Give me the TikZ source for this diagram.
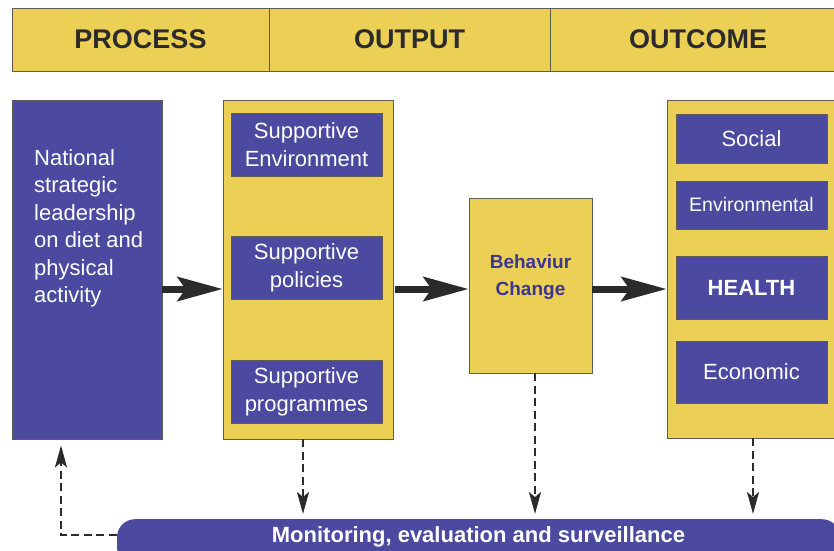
\documentclass[tikz,border=0pt]{standalone}
\usepackage{fontspec}
\setmainfont{Liberation Sans}
\usetikzlibrary{arrows.meta}
\definecolor{kiiro}{RGB}{236,207,85}
\definecolor{ao}{RGB}{75,74,160}
\definecolor{koiao}{RGB}{58,54,145}
\definecolor{sumi}{RGB}{43,43,43}
\definecolor{waku}{RGB}{95,92,82}
\tikzset{
  kiirobox/.style={draw=waku, fill=kiiro, line width=0.8pt, inner sep=0pt},
  aobox/.style={draw=waku, fill=ao, line width=0.8pt, text=white, align=center, inner sep=0pt,
    minimum width=151pt, font=\fontsize{22}{28}\selectfont},
  midashi/.style={kiirobox, minimum height=63pt, text=sumi, font=\bfseries\fontsize{27}{32}\selectfont},
  futoya/.style={draw=sumi, line width=7pt, -{Stealth[length=45pt,width=24pt,inset=8pt]}},
  tenya/.style={draw=sumi, line width=2.4pt, dash pattern=on 8pt off 4.5pt,
    -{Stealth[length=22pt,width=12pt,inset=5pt]}},
}
\begin{document}
\begin{tikzpicture}[x=1pt,y=-1pt]
  \useasboundingbox (0,0) rectangle (834,550);
  \clip (0,0) rectangle (834,550);

  \node[midashi, minimum width=257pt] (hproc) at (140.5,39.5) {PROCESS};
  \node[midashi, minimum width=281pt] (hout) at (409.5,39.5) {OUTPUT};
  \node[midashi, minimum width=296pt] (hres) at (698,39.5) {OUTCOME}; %見出し

  \node[aobox, minimum width=150pt, minimum height=339pt] (lead) at (87,269.5) {};
  \node[anchor=north west, inner sep=0pt, align=left, text=white,
    font=\fontsize{22}{27.5}\selectfont] (leadtext) at (34,149)
    {National\\strategic\\leadership\\on diet and\\physical\\activity}; %左の箱

  \node[kiirobox, minimum width=170pt, minimum height=339pt] (output) at (308,269.5) {};
  \node[aobox, minimum height=63pt] (sienv) at (306.5,144.5) {Supportive\\Environment};
  \node[aobox, minimum height=63pt] (sipol) at (306.5,267.5) {Supportive\\policies};
  \node[aobox, minimum height=63pt] (siprog) at (306.5,391.5) {Supportive\\programmes}; %中の箱

  \node[kiirobox, minimum width=123pt, minimum height=175pt, align=center, text=koiao,
    text depth=20pt, font=\bfseries\fontsize{19}{27}\selectfont] (behav) at (530.5,285.5)
    {Behaviur\\Change}; %行動の変化

  \node[kiirobox, minimum width=183pt, minimum height=338pt] (outcome) at (758.5,269) {};
  \node[aobox, minimum height=49pt] (social) at (751.5,138.5) {Social};
  \node[aobox, minimum height=48pt, font=\fontsize{19.5}{24}\selectfont] (environ) at (751.5,205) {Environmental};
  \node[aobox, minimum height=63pt, font=\bfseries\fontsize{22}{28}\selectfont] (health) at (751.5,287.5) {HEALTH};
  \node[aobox, minimum height=62pt] (econ) at (751.5,372) {Economic}; %右の箱

  \node[fill=ao, rounded corners=18pt, anchor=north, minimum width=723pt, inner xsep=0pt, inner ysep=3pt,
    text height=20pt, text depth=20pt, text=white, font=\bfseries\fontsize{22}{26}\selectfont] (bar)
    at (478.5,519) {Monitoring, evaluation and surveillance}; %下の帯

  \coordinate (flow) at (0,289);
  \draw[futoya] (lead.east |- flow) -- (output.west |- flow);
  \draw[futoya] ([xshift=2pt]output.east |- flow) -- (behav.west |- flow);
  \draw[futoya] (behav.east |- flow) -- (outcome.west |- flow); %太い矢印

  \draw[tenya, shorten >=5pt] ([xshift=-5pt]output.south) -- ([xshift=-5pt]output.south |- bar.north);
  \draw[tenya, shorten >=5pt] ([xshift=4.5pt]behav.south) -- ([xshift=4.5pt]behav.south |- bar.north);
  \draw[tenya, shorten >=5pt] ([xshift=-5.5pt]outcome.south) -- ([xshift=-5.5pt]outcome.south |- bar.north);
  \draw[tenya, shorten >=6pt] ([yshift=7pt]bar.base west) -| ([xshift=-26pt]lead.south); %点線の矢印
\end{tikzpicture}
\end{document}
